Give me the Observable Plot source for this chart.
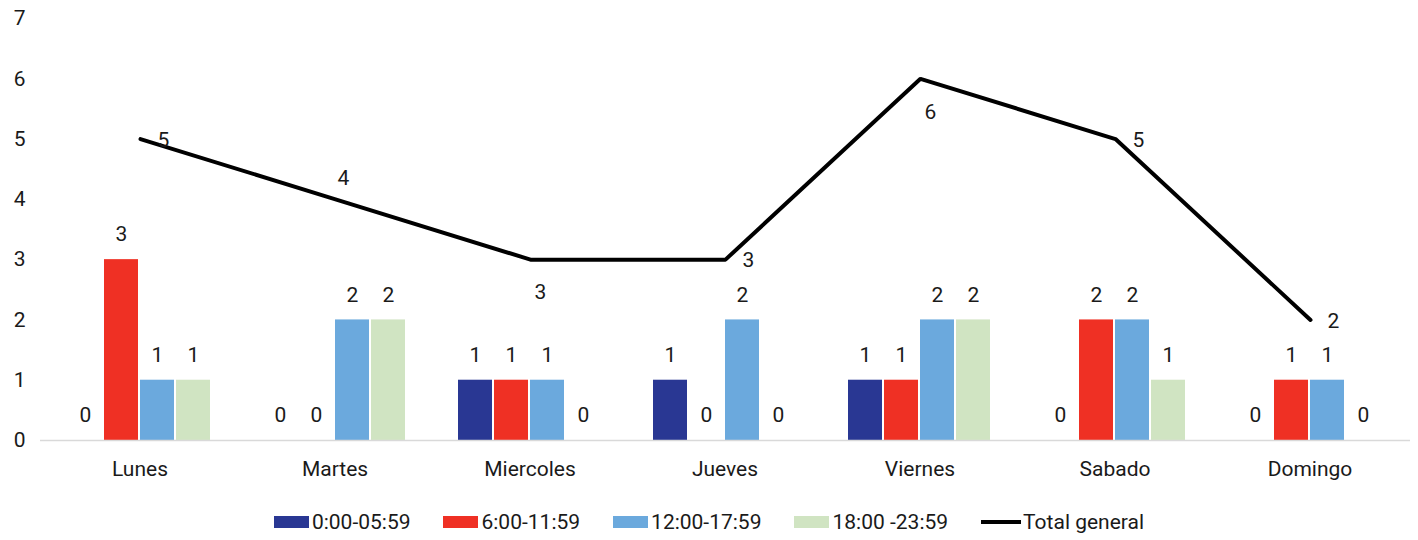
<!DOCTYPE html>
<html>
<head>
<meta charset="utf-8">
<script src="https://cdn.jsdelivr.net/npm/d3@7"></script>
<script src="https://cdn.jsdelivr.net/npm/@observablehq/plot@0.6"></script>
<style>
  html, body { margin: 0; padding: 0; background: #fff; }
  #wrap { position: relative; width: 1418px; height: 490px; }
  #wrap svg text { font-family: Roboto, "Noto Sans", sans-serif; font-size: 21px; fill: #1a1a1a; }
  #legend { display: flex; justify-content: center; align-items: center; gap: 33px;
            margin-top: 17px; height: 30px; font-family: Roboto, "Noto Sans", sans-serif;
            font-size: 21px; color: #1a1a1a; }
  .item { display: flex; align-items: center; }
  .sw { display: inline-block; width: 35px; height: 12px; margin-right: 3px; }
  .ln { display: inline-block; width: 40px; height: 4px; background: #000; margin-right: 2px; }
</style>
</head>
<body>
<div id="wrap"></div>
<div id="legend"></div>
<script>
const days = ["Lunes", "Martes", "Miercoles", "Jueves", "Viernes", "Sabado", "Domingo"];
const seriesNames = ["0:00-05:59", "6:00-11:59", "12:00-17:59", "18:00 -23:59"];
const s0 = [0, 0, 1, 1, 1, 0, 0];
const s1 = [3, 0, 1, 0, 1, 2, 1];
const s2 = [1, 2, 1, 2, 2, 2, 1];
const s3 = [1, 2, 0, 0, 2, 1, 0];
const totalName = "Total general";
const totals = [5, 4, 3, 3, 6, 5, 2];
const yTicks = [0, 1, 2, 3, 4, 5, 6, 7];

// styles
const colors = ["#293793", "#ef3024", "#6ba9dd", "#d0e4c2"];
const labelPlacement = ["right", "above", "below", "right", "below", "right", "right"];
const placementOffsets = { right: { dx: 23, dy: 1 }, above: { dx: 8, dy: -21 }, below: { dx: 10, dy: 33 } };

const seriesValues = [s0, s1, s2, s3];
const rows = [];
days.forEach((d, i) => seriesNames.forEach((s, j) => rows.push({ day: d, series: s, value: seriesValues[j][i] })));
const totalRows = days.map((d, i) => ({ day: d, value: totals[i], place: labelPlacement[i] }));

const W = 1418, H = 490, ML = 40, MR = 8, MT = 18, MB = 50;

const barsPlot = Plot.plot({
  width: W, height: H, marginLeft: ML, marginRight: MR, marginTop: MT, marginBottom: MB,
  facet: { data: rows, x: "day" },
  fx: { domain: days, paddingInner: 0.265, paddingOuter: 0.1325, label: null, axis: "bottom", tickSize: 0, tickPadding: 21 },
  x: { domain: seriesNames, paddingInner: 0.055, paddingOuter: 0, axis: null },
  y: { domain: [0, 7], ticks: yTicks, tickFormat: d3.format("d"), tickSize: 0, tickPadding: 43, label: null },
  color: { domain: seriesNames, range: colors },
  marks: [
    Plot.barY(rows, { x: "series", y: "value", fill: "series" }),
    Plot.text(rows, { x: "series", y: "value", text: d => String(d.value), dy: -25 })
  ]
});

const marks = [
  Plot.ruleY([0], { stroke: "#d9d9d9", strokeWidth: 1.5 }),
  Plot.line(totalRows, { x: "day", y: "value", stroke: "#000", strokeWidth: 4, strokeLinejoin: "miter" })
];
for (const p of Object.keys(placementOffsets)) {
  marks.push(Plot.text(totalRows.filter(r => r.place === p), {
    x: "day", y: "value", text: d => String(d.value), dx: placementOffsets[p].dx, dy: placementOffsets[p].dy
  }));
}
const linePlot = Plot.plot({
  width: W, height: H, marginLeft: ML, marginRight: MR, marginTop: MT, marginBottom: MB,
  x: { type: "point", domain: days, padding: 0.5, axis: null },
  y: { domain: [0, 7], axis: null },
  marks
});
linePlot.style.position = "absolute";
linePlot.style.left = "0";
linePlot.style.top = "0";
linePlot.style.background = "transparent";

const wrap = document.getElementById("wrap");
wrap.appendChild(barsPlot);
wrap.appendChild(linePlot);

const legend = document.getElementById("legend");
seriesNames.forEach((s, i) => {
  const it = document.createElement("div"); it.className = "item";
  const sw = document.createElement("span"); sw.className = "sw"; sw.style.background = colors[i];
  const t = document.createElement("span"); t.textContent = s;
  it.appendChild(sw); it.appendChild(t); legend.appendChild(it);
});
{
  const it = document.createElement("div"); it.className = "item";
  const ln = document.createElement("span"); ln.className = "ln";
  const t = document.createElement("span"); t.textContent = totalName;
  it.appendChild(ln); it.appendChild(t); legend.appendChild(it);
}
</script>
</body>
</html>
